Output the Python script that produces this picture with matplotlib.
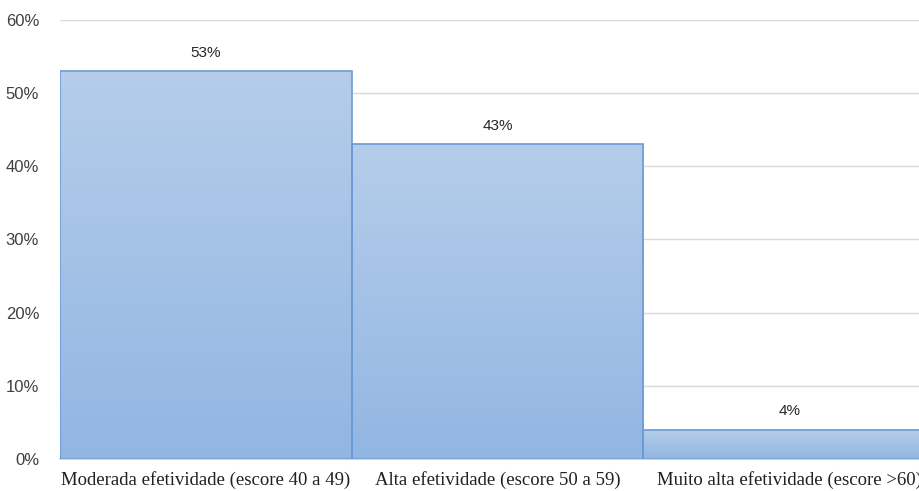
import numpy as np
import matplotlib
matplotlib.use("Agg")
import matplotlib.pyplot as plt
from matplotlib.colors import LinearSegmentedColormap

categories = ["Moderada efetividade (escore 40 a 49)",
              "Alta efetividade (escore 50 a 59)",
              "Muito alta efetividade (escore >60)"]
values = [0.53, 0.43, 0.04]
value_labels = ["53%", "43%", "4%"]
y_ticks = [0, 0.1, 0.2, 0.3, 0.4, 0.5, 0.6]
y_tick_labels = ["0%", "10%", "20%", "30%", "40%", "50%", "60%"]

fig = plt.figure(figsize=(9.2, 4.91), dpi=100)
ax = fig.add_axes([60 / 920, 32 / 491, 875 / 920, 439 / 491])

x = np.arange(len(categories))
bars = ax.bar(x, values, width=1.0, facecolor="none", edgecolor="#6a9bd6",
              linewidth=1.2, zorder=3)

# per-bar vertical gradient, lighter at the top
cmap = LinearSegmentedColormap.from_list("grad", ["#92b6e2", "#b5cdea"])
grad = np.linspace(0, 1, 256).reshape(-1, 1)
for b in bars:
    x0, w, h = b.get_x(), b.get_width(), b.get_height()
    im = ax.imshow(grad, cmap=cmap, origin="lower", aspect="auto",
                   extent=(x0, x0 + w, 0, h), zorder=2)
    im.set_clip_path(b)

for xi, v, lab in zip(x, values, value_labels):
    ax.text(xi, v + 0.016, lab, ha="center", va="bottom", fontsize=11,
            family="Liberation Sans", color="#262626")

ax.set_xlim(-0.5, len(categories) - 0.5)
ax.set_ylim(0, 0.6)
ax.set_yticks(y_ticks)
ax.set_yticklabels(y_tick_labels, family="Liberation Sans", fontsize=12,
                   color="#404040")
ax.set_xticks(x)
ax.set_xticklabels(categories, family="Liberation Serif", fontsize=13.5,
                   color="#202020")
ax.tick_params(length=0, pad=9)
ax.tick_params(axis="y", pad=15)
ax.grid(axis="y", color="#d9d9d9", linewidth=1, zorder=0)
ax.set_axisbelow(True)
for s in ["top", "right", "left"]:
    ax.spines[s].set_visible(False)
ax.spines["bottom"].set_color("#d0d0d0")
ax.spines["bottom"].set_linewidth(1.2)

fig.savefig("out.png", dpi=100)
